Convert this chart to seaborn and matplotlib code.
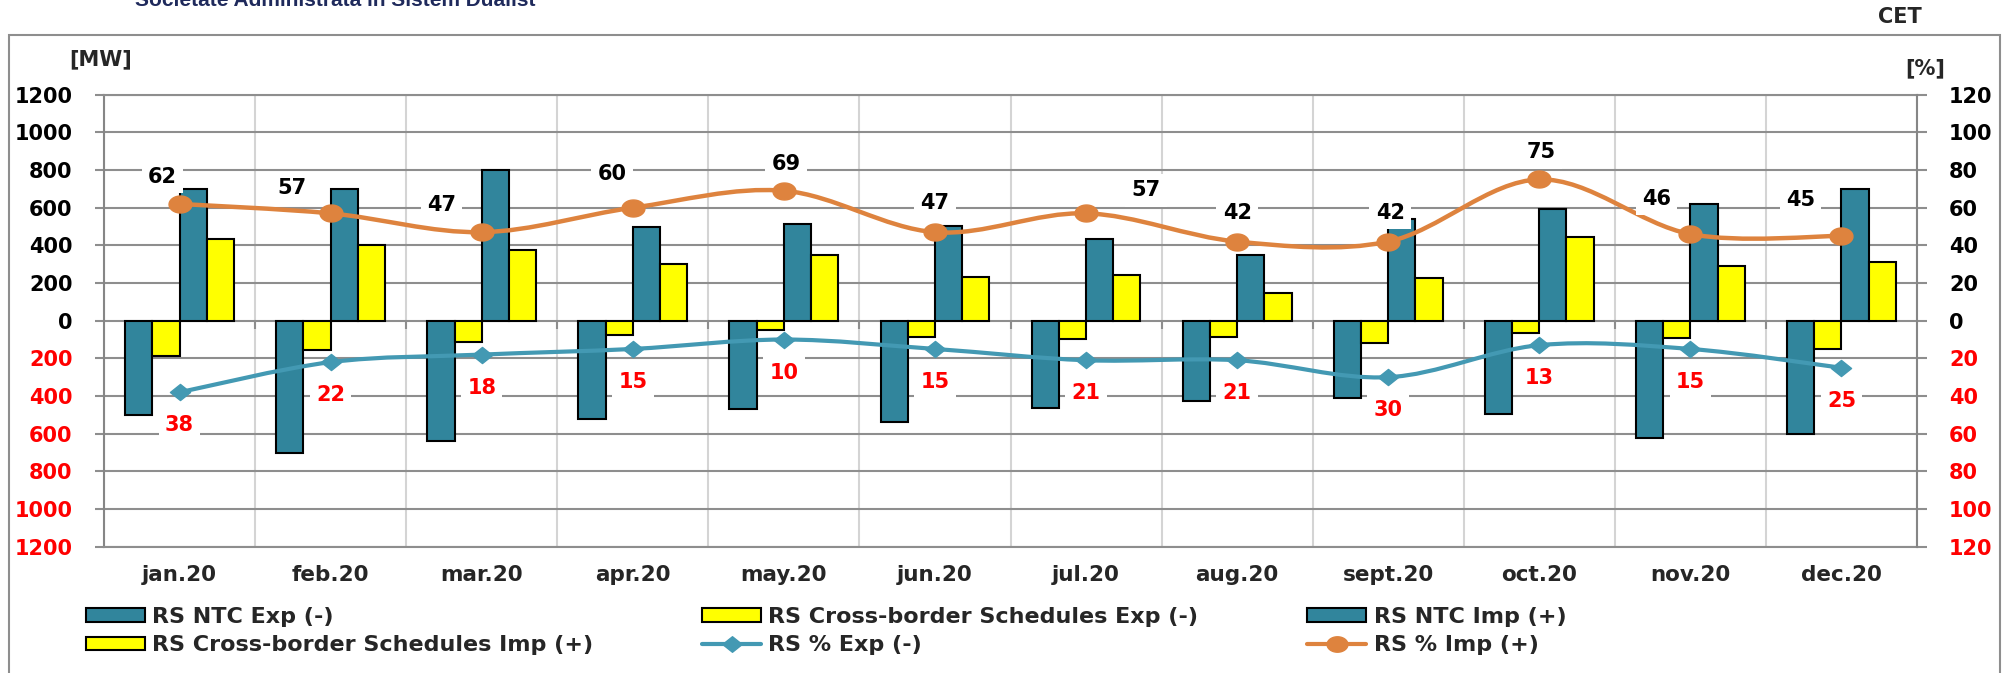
import numpy as np
import pandas as pd
import matplotlib
matplotlib.use("Agg")
import matplotlib.pyplot as plt
import seaborn as sns
from matplotlib.path import Path
from matplotlib.patches import PathPatch, Rectangle, Patch
from matplotlib.lines import Line2D

# ---- data -------------------------------------------------------------
months = ["jan.20", "feb.20", "mar.20", "apr.20", "may.20", "jun.20",
          "jul.20", "aug.20", "sept.20", "oct.20", "nov.20", "dec.20"]
ntc_exp = [500, 700, 640, 520, 468, 539, 461, 424, 408, 495, 625, 600]
sched_exp = [190, 155, 115, 75, 50, 85, 96, 88, 121, 67, 94, 150]
ntc_imp = [700, 700, 800, 500, 513, 502, 435, 348, 540, 591, 618, 700]
sched_imp = [433, 400, 375, 300, 350, 234, 243, 147, 225, 444, 288, 312]
pct_exp = [38, 22, 18, 15, 10, 15, 21, 21, 30, 13, 15, 25]
pct_imp = [62, 57, 47, 60, 69, 47, 57, 42, 42, 75, 46, 45]

series_names = ["RS NTC Exp (-)", "RS Cross-border Schedules Exp (-)",
                "RS NTC Imp (+)", "RS Cross-border Schedules Imp (+)"]
line_names = ["RS % Exp (-)", "RS % Imp (+)"]

# label placement (pixels relative to the marker)
imp_label_dx = [-17, -39, -40, -21, 2, 0, 60, 0, 2, 2, -34, -41]
imp_label_dy = [-27, -25, -27, -34, -27, -29, -23, -29, -29, -27, -35, -36]
exp_label_dy = 33

# ---- style ------------------------------------------------------------
TEAL = "#31859C"
YELLOW = "#FFFF00"
ORANGE = "#DE833E"
BLUE = "#4399B3"
RED = "#FF0000"
HGRID = "#8E8E8E"
VGRID = "#D4D4D4"
AXIS = "#868686"
FS = 15

sns.set_theme(style="white")
plt.rcParams["font.family"] = ["DejaVu Sans"]
plt.rcParams["font.weight"] = "bold"

W, H = 2010, 673
fig = plt.figure(figsize=(W / 100, H / 100), dpi=100)
fig.patch.set_facecolor("white")

x0, x1, y0, y1 = 104, 1917, 94.7, 546.7
ax = fig.add_axes([x0 / W, 1 - y1 / H, (x1 - x0) / W, (y1 - y0) / H])

# ---- bars ---------------------------------------------------------------
df = pd.DataFrame({
    "month": months * 4,
    "series": np.repeat(series_names, len(months)),
    "value": np.concatenate([-np.array(ntc_exp), -np.array(sched_exp),
                             np.array(ntc_imp), np.array(sched_imp)]),
})
sns.barplot(data=df, x="month", y="value", hue="series",
            order=months, hue_order=series_names,
            palette=[TEAL, YELLOW, TEAL, YELLOW], saturation=1,
            width=0.72, gap=0, edgecolor="black", linewidth=1.5,
            errorbar=None, legend=False, ax=ax, zorder=3)

ax.set_xlim(-0.5, len(months) - 0.5)
ax.set_ylim(-1200, 1200)
ax.set_xlabel("")
ax.set_ylabel("")
ax.set_axisbelow(True)

yt = np.arange(-1200, 1201, 200)
ax.set_yticks(yt)
ax.set_yticklabels([str(abs(v)) for v in yt])
for v, lab in zip(yt, ax.get_yticklabels()):
    lab.set_color(RED if v < 0 else "black")
ax.tick_params(axis="y", length=6.5, width=1.5, color=HGRID, pad=16,
               labelsize=FS)

ax.set_xticks(range(len(months)))
ax.set_xticklabels(months)
ax.set_xticks(np.arange(-0.5, len(months)), minor=True)
ax.tick_params(axis="x", which="both", length=0, pad=13, labelsize=15.5)
ax.grid(False)
ax.yaxis.grid(True, color=HGRID, lw=1.5)
ax.xaxis.grid(True, which="minor", color=VGRID, lw=1.5)

for side in ("top", "bottom"):
    ax.spines[side].set_color(HGRID)
    ax.spines[side].set_linewidth(1.5)
ax.spines["left"].set_color(AXIS)
ax.spines["left"].set_linewidth(1.5)
ax.spines["right"].set_visible(False)

# category tick marks on the zero line
ax.vlines(np.arange(0.5, len(months) - 1), 0.5 - 8 / (y1 - y0), 0.5,
          transform=ax.get_xaxis_transform(), colors=HGRID, lw=1.5,
          zorder=2)

# ---- percentage lines ---------------------------------------------------
ax2 = ax.twinx()
ax2.set_ylim(-120, 120)
pt = np.arange(-120, 121, 20)
ax2.set_yticks(pt)
ax2.set_yticklabels([str(abs(v)) for v in pt])
for v, lab in zip(pt, ax2.get_yticklabels()):
    lab.set_color(RED if v < 0 else "black")
ax2.tick_params(axis="y", length=7, width=1.5, color=HGRID, pad=16,
                labelsize=FS)
ax2.grid(False)
for side in ("top", "bottom", "left"):
    ax2.spines[side].set_visible(False)
ax2.spines["right"].set_color(AXIS)
ax2.spines["right"].set_linewidth(1.5)


def smooth_path(xs, ys):
    """Cubic Bezier path through the points (Catmull-Rom style tangents)."""
    p = np.column_stack([xs, ys]).astype(float)
    ext = np.vstack([p[0], p, p[-1]])
    verts, codes = [p[0]], [Path.MOVETO]
    for i in range(len(p) - 1):
        a, b, c, d = ext[i], ext[i + 1], ext[i + 2], ext[i + 3]
        verts += [b + (c - a) / 6, c - (d - b) / 6, c]
        codes += [Path.CURVE4] * 3
    return Path(verts, codes)


theta = np.linspace(0, 2 * np.pi, 49)
ellipse_marker = Path(np.column_stack([1.35 * np.cos(theta), np.sin(theta)]))
diamond_marker = Path([[0, 1], [1.25, 0], [0, -1], [-1.25, 0], [0, 1]],
                      closed=True)

xs = np.arange(len(months))
exp_y = -np.array(pct_exp)
imp_y = np.array(pct_imp)

ax2.add_patch(PathPatch(smooth_path(xs, exp_y), fill=False, edgecolor=BLUE,
                        lw=3, capstyle="round", joinstyle="round", zorder=4))
ax2.add_patch(PathPatch(smooth_path(xs, imp_y), fill=False, edgecolor=ORANGE,
                        lw=3.2, capstyle="round", joinstyle="round", zorder=4))
ax2.plot(xs, exp_y, ls="none", marker=diamond_marker, ms=14.5, color=BLUE,
         mec=BLUE, zorder=5)
ax2.plot(xs, imp_y, ls="none", marker=ellipse_marker, ms=16.5, color=ORANGE,
         mec=ORANGE, zorder=5)

px = 0.72  # points per pixel at 100 dpi
box = dict(boxstyle="square,pad=0.3", fc="white", ec="none")
for i, v in enumerate(pct_imp):
    ax2.annotate(str(v), xy=(i, v),
                 xytext=(imp_label_dx[i] * px, -imp_label_dy[i] * px),
                 textcoords="offset points", ha="center", va="center",
                 fontsize=FS, fontweight="bold", color="black", bbox=box,
                 zorder=6)
for i, v in enumerate(pct_exp):
    ax2.annotate(str(v), xy=(i, -v), xytext=(0, -exp_label_dy * px),
                 textcoords="offset points", ha="center", va="center",
                 fontsize=FS, fontweight="bold", color=RED, bbox=box,
                 zorder=6)

# ---- frame and texts ------------------------------------------------------
fig.add_artist(Rectangle((9 / W, -0.05), (2000 - 9) / W, 1 - 35 / H + 0.05,
                         transform=fig.transFigure, fill=False,
                         ec=HGRID, lw=1.5, clip_on=False))
fig.text(135 / W, 1 - 6.5 / H, "Societate Administrata in Sistem Dualist",
         ha="left", va="baseline", fontsize=15, fontweight="bold",
         color="#1F2A5C", family=["Liberation Sans", "DejaVu Sans"])
fig.text(1878 / W, 1 - 17 / H, "CET", ha="left", va="center",
         fontsize=FS, fontweight="bold")
fig.text(69 / W, 1 - 59 / H, "[MW]", ha="left", va="center",
         fontsize=FS, fontweight="bold")
fig.text(1905 / W, 1 - 68 / H, "[%]", ha="left", va="center",
         fontsize=FS, fontweight="bold")

# ---- legend -------------------------------------------------------------
bar_h = [Patch(fc=TEAL, ec="black", lw=1.5, label=series_names[0]),
         Patch(fc=YELLOW, ec="black", lw=1.5, label=series_names[1]),
         Patch(fc=TEAL, ec="black", lw=1.5, label=series_names[2]),
         Patch(fc=YELLOW, ec="black", lw=1.5, label=series_names[3])]
line_h = [Line2D([], [], color=BLUE, lw=3, marker=diamond_marker, ms=14,
                 label=line_names[0]),
          Line2D([], [], color=ORANGE, lw=3, marker=ellipse_marker, ms=15,
                 label=line_names[1])]
# row-major reading order packed into column-major legend order
handles = [bar_h[0], bar_h[3], bar_h[1], line_h[0], bar_h[2], line_h[1]]
fig.legend(handles=handles, labels=[h.get_label() for h in handles],
           ncol=3, loc="upper left", bbox_to_anchor=(86 / W, 1 - 607 / H),
           frameon=False, prop={"size": 16, "weight": "bold"},
           handlelength=2.66, handleheight=0.55, handletextpad=0.32,
           columnspacing=4.9, labelspacing=0.38, borderpad=0,
           borderaxespad=0, numpoints=1)

fig.savefig("out.png", dpi=100, facecolor="white")
